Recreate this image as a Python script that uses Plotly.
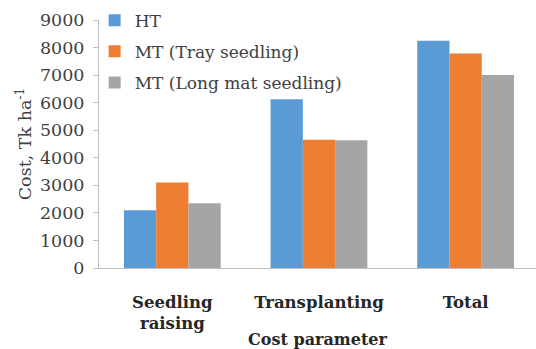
import plotly.graph_objects as go

categories = ["Seedling<br>raising", "Transplanting", "Total"]
series_names = ["HT", "MT (Tray seedling)", "MT (Long mat seedling)"]
ht_cost = [2100, 6120, 8250]
mt_tray_cost = [3100, 4650, 7780]
mt_longmat_cost = [2350, 4640, 7000]
y_ticks = [0, 1000, 2000, 3000, 4000, 5000, 6000, 7000, 8000, 9000]

colors = ["#5B9BD5", "#ED7D31", "#A5A5A5"]
serif = "DejaVu Serif"

fig = go.Figure()
for name, vals, col in zip(series_names, [ht_cost, mt_tray_cost, mt_longmat_cost], colors):
    fig.add_trace(go.Bar(
        x=categories, y=vals, name=name, legendgroup=name,
        marker=dict(color=col, line=dict(width=0)),
    ))

fig.update_layout(
    width=536, height=349,
    margin=dict(l=99, r=0, t=20, b=81),
    paper_bgcolor="white", plot_bgcolor="white",
    barmode="group", bargap=0.34, bargroupgap=0,
    font=dict(family=serif, color="#404040", size=16),
    legend=dict(
        x=-0.01, y=1.07, xanchor="left", yanchor="top",
        font=dict(family=serif, size=17, color="#404040"),
        bgcolor="rgba(0,0,0,0)", traceorder="grouped", tracegroupgap=6,
        itemwidth=30,
    ),
    xaxis=dict(
        range=[-0.5, 2.48], showgrid=False, showline=True,
        linecolor="#BFBFBF", linewidth=1, ticks="",
        tickfont=dict(family=serif, size=16.5, color="#262626", weight="bold"),
        ticklabelstandoff=19,
        title=dict(text="<b>Cost parameter</b>", standoff=3,
                   font=dict(family=serif, size=16, color="#262626")),
    ),
    yaxis=dict(
        range=[0, 9000], tickvals=y_ticks, showgrid=False, showline=True,
        linecolor="#BFBFBF", linewidth=1, ticks="outside", ticklen=5,
        tickcolor="#BFBFBF", ticklabelstandoff=5,
        tickfont=dict(family=serif, size=17.5, color="#404040"),
        title=dict(text="Cost, Tk ha<sup>-1</sup>", standoff=3,
                   font=dict(family=serif, size=17.5, color="#404040")),
    ),
)

fig.write_html("out.html")
